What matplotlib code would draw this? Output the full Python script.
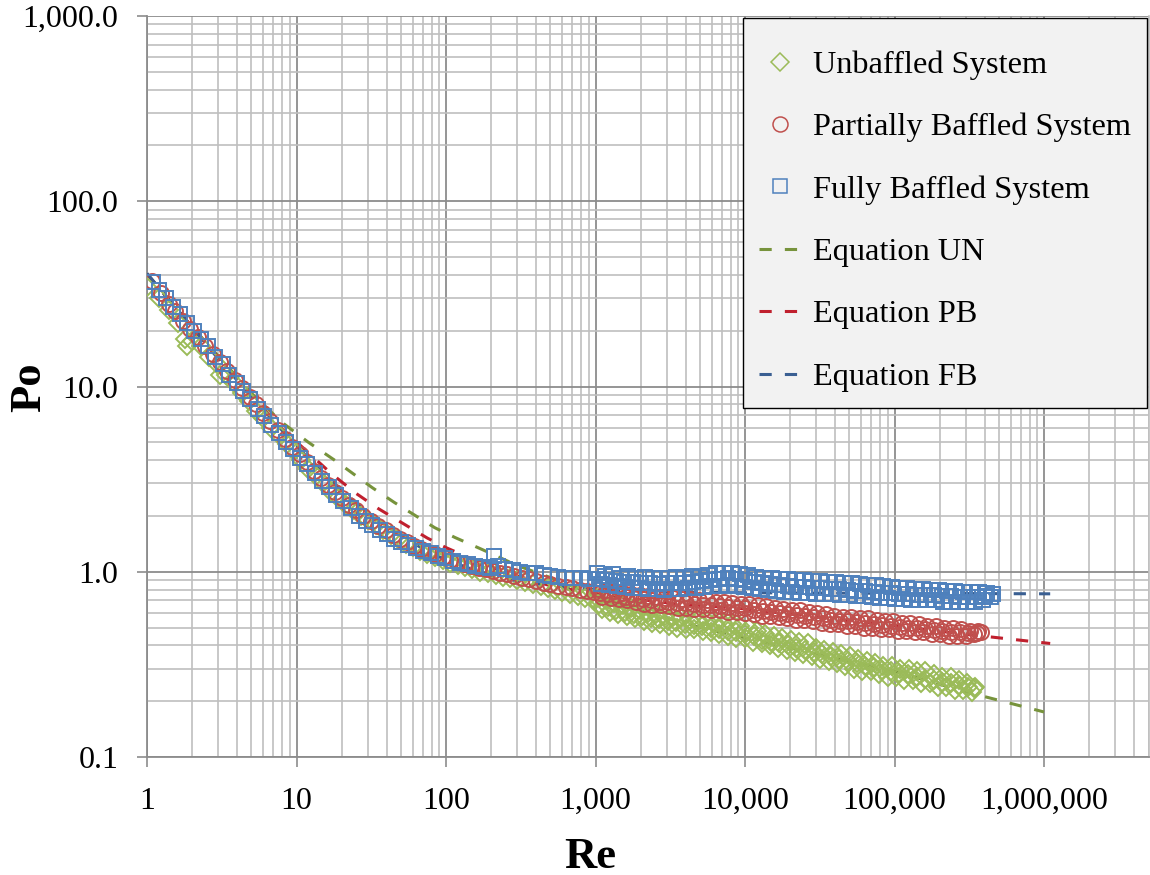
import matplotlib
matplotlib.use("Agg")
import matplotlib.pyplot as plt
from matplotlib.ticker import FixedLocator, LogLocator, NullFormatter
from matplotlib.lines import Line2D

# ---------------- data ----------------
x_tick_values = [1, 10, 100, 1000, 10000, 100000, 1000000]
x_tick_labels = ["1", "10", "100", "1,000", "10,000", "100,000", "1,000,000"]
y_tick_values = [0.1, 1, 10, 100, 1000]
y_tick_labels = ["0.1", "1.0", "10.0", "100.0", "1,000.0"]

series_labels = ["Unbaffled System", "Partially Baffled System", "Fully Baffled System",
                 "Equation UN", "Equation PB", "Equation FB"]

# Unbaffled system (diamonds)
un_re = [1.0, 1.2, 1.4, 1.6, 1.8, 1.85, 2.0, 2.3, 2.6, 3.0, 3.1, 3.4, 3.8, 4.3, 4.8, 5.4, 6.0, 6.8,
         7.7, 8.6, 9.6, 10.8, 12, 13.5, 15, 17, 19, 21.5, 24, 27, 30, 34, 38, 43, 48, 54, 60,
         67, 75, 84, 95, 106, 120, 135, 150, 170, 190, 215, 240, 270, 300, 340, 380, 430,
         480, 540, 600, 680, 760, 850, 950,
         1030, 1100, 1170, 1250, 1330, 1420, 1520, 1620, 1730, 1840, 1970, 2100, 2240, 2390,
         2550, 2720, 2900, 3100, 3300, 3520, 3760, 4010, 4280, 4560, 4870, 5200, 5540, 5910,
         6310, 6730, 7180, 7660, 8180, 8720, 9310, 9930, 10600, 11300, 12100, 12900, 13700,
         14700, 15600, 16700, 17800, 19000, 20300, 21600, 23100, 24600, 26300, 28000, 29900,
         31900, 34000, 36300, 38700, 41300, 44100, 47000, 50100, 53500, 57100, 60900, 65000,
         69300, 74000, 78900, 84200, 89800, 95800, 102200, 109100, 116400, 124200, 132500,
         141300, 150800, 160900, 171600, 183100, 195400, 208500, 222400, 237300, 253200,
         270200, 288300, 307600, 328200, 345000]
un_po = [34.5, 30, 26, 22, 18, 16.6, 17.5, 16.5, 14.5, 13, 11.6, 11.5, 10.4, 9.2, 8.4, 7.4, 6.8, 6.0,
         5.4, 4.9, 4.5, 4.0, 3.6, 3.3, 3.0, 2.7, 2.5, 2.3, 2.15, 2.0, 1.9, 1.78, 1.68, 1.58, 1.5,
         1.42, 1.36, 1.3, 1.25, 1.2, 1.16, 1.12, 1.09, 1.06, 1.03, 1.0, 0.98, 0.96, 0.94, 0.92,
         0.9, 0.88, 0.86, 0.84, 0.82, 0.8, 0.78, 0.76, 0.74, 0.72, 0.71,
         0.72, 0.63, 0.70, 0.61, 0.68, 0.59, 0.66, 0.58, 0.64, 0.56, 0.62, 0.54, 0.60, 0.53,
         0.59, 0.52, 0.58, 0.51, 0.57, 0.50, 0.56, 0.49, 0.55, 0.49, 0.55, 0.48, 0.54, 0.47,
         0.53, 0.46, 0.53, 0.45, 0.52, 0.44, 0.51, 0.44, 0.50, 0.42, 0.48, 0.41, 0.46,
         0.40, 0.45, 0.39, 0.44, 0.38, 0.43, 0.37, 0.42, 0.36, 0.41, 0.35, 0.39,
         0.34, 0.38, 0.33, 0.37, 0.32, 0.36, 0.31, 0.35, 0.30, 0.34, 0.29, 0.33,
         0.29, 0.32, 0.28, 0.31, 0.27, 0.31, 0.27, 0.30, 0.26, 0.30, 0.26,
         0.29, 0.25, 0.29, 0.25, 0.28, 0.24, 0.27, 0.24, 0.27, 0.23,
         0.26, 0.23, 0.25, 0.225, 0.24]
un_re_mid = [1060, 1210, 1380, 1580, 1800, 2050, 2340, 2670, 3050, 3480, 3970, 4530, 5170, 5900,
             6730, 7680, 8760, 10000, 11400, 13000, 14900, 17000, 19400, 22100, 25200, 28800,
             32900, 37500, 42800, 48800, 55700, 63600, 72500, 82800, 94500, 107800, 123000,
             140400, 160200, 182800, 208600, 238000, 271600, 309900, 340000]
un_po_mid = [0.67, 0.645, 0.625, 0.61, 0.595, 0.58, 0.565, 0.555, 0.545, 0.535, 0.525, 0.515,
             0.51, 0.50, 0.49, 0.48, 0.47, 0.46, 0.45, 0.43, 0.42, 0.41, 0.40, 0.39, 0.38, 0.37,
             0.36, 0.35, 0.34, 0.33, 0.32, 0.31, 0.305, 0.295, 0.29, 0.285, 0.28, 0.27, 0.265,
             0.26, 0.255, 0.25, 0.245, 0.24, 0.235]

# Partially baffled system (circles)
pb_re = [1.08, 1.25, 1.4, 1.55, 1.75, 1.95, 2.2, 2.45, 2.75, 3.1, 3.45, 3.9, 4.35, 4.85, 5.4, 6.0,
         6.7, 7.5, 8.4, 9.4, 10.5, 11.7, 13, 14.5, 16.2, 18, 20, 22.5, 25, 28, 31.5, 35, 39.5,
         44, 49, 55, 61, 68, 76, 85, 95, 106, 118, 132, 148, 165, 185, 205, 230, 255, 285,
         320, 360, 400, 450, 500, 560, 630, 700, 790, 880, 970,
         1040, 1110, 1180, 1260, 1340, 1430, 1530, 1630, 1740, 1860, 1980, 2110, 2250, 2400,
         2560, 2730, 2910, 3110, 3320, 3540, 3780, 4030, 4300, 4590, 4900, 5230, 5580, 5950,
         6350, 6780, 7230, 7720, 8240, 8790, 9380, 10000, 10700, 11400, 12200, 13000, 13900,
         14800, 15800, 16900, 18000, 19200, 20500, 21900, 23400, 25000, 26700, 28500, 30400,
         32500, 34600, 37000, 39500, 42100, 45000, 48000, 51200, 54700, 58400, 62300, 66500,
         71000, 75800, 80900, 86400, 92200, 98400, 105000, 112100, 119700, 127800, 136400,
         145600, 155400, 165900, 177100, 189100, 201800, 215400, 230000, 245500, 262000,
         279700, 298600, 318700, 340200, 363100, 380000]
pb_po = [37, 32, 28, 25.5, 22.5, 20.5, 18.5, 16.5, 15, 13.5, 12.2, 10.8, 9.8, 8.8, 8.0, 7.2,
         6.5, 5.8, 5.2, 4.7, 4.3, 3.9, 3.5, 3.2, 2.95, 2.7, 2.5, 2.3, 2.15, 2.0, 1.88, 1.77, 1.67,
         1.58, 1.5, 1.44, 1.38, 1.33, 1.28, 1.24, 1.2, 1.16, 1.13, 1.1, 1.07, 1.05, 1.03, 1.01,
         0.99, 0.97, 0.95, 0.93, 0.91, 0.89, 0.87, 0.86, 0.84, 0.83, 0.82, 0.80, 0.79, 0.78,
         0.81, 0.73, 0.80, 0.72, 0.79, 0.71, 0.77, 0.70, 0.76, 0.69, 0.75, 0.67, 0.74, 0.66,
         0.73, 0.66, 0.72, 0.65, 0.72, 0.64, 0.71, 0.64, 0.71, 0.63, 0.70, 0.63, 0.70, 0.62,
         0.69, 0.62, 0.69, 0.61, 0.68, 0.61, 0.67, 0.60, 0.67, 0.59, 0.66, 0.58, 0.65,
         0.58, 0.64, 0.57, 0.63, 0.56, 0.62, 0.55, 0.62, 0.55, 0.61, 0.54, 0.60,
         0.53, 0.59, 0.52, 0.58, 0.52, 0.57, 0.51, 0.57, 0.51, 0.56, 0.50, 0.56,
         0.50, 0.55, 0.49, 0.54, 0.49, 0.54, 0.48, 0.53, 0.48, 0.53, 0.47,
         0.52, 0.47, 0.51, 0.46, 0.51, 0.46, 0.50, 0.45, 0.50, 0.45,
         0.49, 0.45, 0.48, 0.46, 0.48, 0.47]
pb_re_mid = [1070, 1220, 1390, 1590, 1810, 2070, 2360, 2690, 3070, 3500, 4000, 4560, 5200, 5940,
             6780, 7730, 8820, 10060, 11480, 13100, 14950, 17060, 19460, 22210, 25340, 28910,
             32990, 37640, 42950, 49010, 55920, 63810, 72810, 83080, 94800, 108200, 123400,
             140800, 160700, 183400, 209200, 238700, 272400, 310800, 354700]
pb_po_mid = [0.77, 0.755, 0.745, 0.735, 0.72, 0.71, 0.70, 0.69, 0.685, 0.68, 0.675, 0.67, 0.665,
             0.66, 0.655, 0.645, 0.64, 0.635, 0.625, 0.615, 0.61, 0.60, 0.59, 0.585, 0.575, 0.57,
             0.56, 0.55, 0.545, 0.54, 0.535, 0.53, 0.525, 0.515, 0.51, 0.505, 0.50, 0.495, 0.49,
             0.485, 0.48, 0.475, 0.47, 0.465, 0.465]

# Fully baffled system (squares)
fb_re = [1.1, 1.2, 1.35, 1.5, 1.65, 1.85, 2.05, 2.3, 2.55, 2.85, 3.2, 3.55, 4.0, 4.4, 4.9, 5.5,
         6.1, 6.8, 7.6, 8.5, 9.5, 10.6, 11.8, 13.2, 14.8, 16.5, 18.5, 20.6, 23, 26, 29, 32, 36,
         40, 45, 50, 56, 63, 70, 79, 88, 99, 111, 125, 140, 157, 176, 198, 210, 222, 250, 280,
         315, 355, 400, 450, 500, 560, 630, 710, 800, 900,
         1020, 1090, 1150, 1230, 1310, 1400, 1480, 1570, 1660, 1770, 1880, 2010, 2130, 2260,
         2410, 2560, 2730, 2890, 3080, 3270, 3480, 3700, 3930, 4180, 4450, 4730, 5030, 5350,
         5690, 6050, 6430, 6840, 7270, 7730, 8220, 8740, 9290, 9880, 10500, 11200, 11900,
         12600, 13400, 14300, 15200, 16100, 17200, 18200, 19400, 20600, 21900, 23300, 24800,
         26300, 28000, 29800, 31600, 33600, 35800, 38000, 40400, 43000, 45700, 48600, 51700,
         55000, 58400, 62100, 66100, 70300, 74700, 79400, 84400, 89800, 95500, 101500, 108000,
         114800, 122000, 129800, 138000, 146700, 156000, 165800, 176300, 187500, 199300,
         212000, 225400, 239600, 254800, 270900, 288000, 306200, 325600, 346200, 368100,
         391300, 416100, 442400, 455000]
fb_po = [36.5, 33, 30, 27, 24.5, 22, 20, 18, 16.5, 14.5, 13.2, 11.6, 10.5, 9.4, 8.6, 7.6,
         6.9, 6.2, 5.6, 5.0, 4.6, 4.1, 3.8, 3.4, 3.1, 2.85, 2.6, 2.4, 2.2, 2.0, 1.88, 1.78, 1.68,
         1.6, 1.5, 1.45, 1.4, 1.34, 1.3, 1.26, 1.22, 1.19, 1.15, 1.12, 1.1, 1.08, 1.06, 1.05,
         1.22, 1.08, 1.04, 1.02, 1.0, 0.99, 0.98, 0.96, 0.95, 0.94, 0.93, 0.92, 0.92, 0.91,
         0.99, 0.86, 0.95, 0.85, 0.97, 0.84, 0.93, 0.83, 0.95, 0.82, 0.93, 0.82, 0.94, 0.81,
         0.93, 0.81, 0.92, 0.80, 0.93, 0.81, 0.94, 0.81, 0.93, 0.82, 0.95, 0.82, 0.94, 0.83,
         0.96, 0.84, 0.98, 0.84, 0.99, 0.85, 0.98, 0.84, 0.97, 0.83, 0.96, 0.82, 0.94,
         0.81, 0.93, 0.80, 0.92, 0.79, 0.91, 0.78, 0.91, 0.78, 0.90, 0.77, 0.90,
         0.77, 0.89, 0.76, 0.89, 0.76, 0.88, 0.76, 0.88, 0.75, 0.87, 0.75, 0.87,
         0.74, 0.86, 0.74, 0.85, 0.73, 0.85, 0.72, 0.84, 0.72, 0.83, 0.71, 0.82,
         0.71, 0.82, 0.70, 0.81, 0.70, 0.81, 0.70, 0.80, 0.70, 0.80,
         0.69, 0.79, 0.69, 0.79, 0.69, 0.78, 0.69, 0.78, 0.69, 0.78,
         0.70, 0.77, 0.73, 0.76]
fb_re_mid = [1050, 1200, 1370, 1560, 1780, 2030, 2320, 2650, 3020, 3450, 3940, 4500, 5130, 5860,
             6690, 7640, 8720, 9950, 11400, 13000, 14800, 16900, 19300, 22000, 25100, 28700,
             32700, 37400, 42700, 48700, 55600, 63500, 72500, 82700, 94400, 107800, 123000,
             140400, 160300, 183000, 208900, 238500, 272300, 310800, 354800, 405000]
fb_po_mid = [0.91, 0.90, 0.89, 0.88, 0.88, 0.87, 0.87, 0.86, 0.87, 0.87, 0.87, 0.88, 0.89, 0.90,
             0.91, 0.92, 0.91, 0.90, 0.88, 0.87, 0.86, 0.85, 0.84, 0.83, 0.83, 0.82, 0.82, 0.81,
             0.81, 0.80, 0.79, 0.79, 0.78, 0.77, 0.77, 0.76, 0.76, 0.75, 0.75, 0.745, 0.74,
             0.74, 0.735, 0.735, 0.73, 0.74]

# Correlation equations (dashed lines)
eq_un_re = [1, 2, 3, 5, 8, 12, 18, 32, 45, 84, 115, 174, 300, 500, 1000, 2000, 5000, 10000,
            30000, 100000, 300000, 1000000]
eq_un_po = [40.5, 21, 14.6, 9.2, 6.4, 5.0, 4.0, 2.85, 2.37, 1.73, 1.53, 1.32, 1.08, 0.93, 0.75,
            0.62, 0.5, 0.44, 0.36, 0.29, 0.225, 0.175]
eq_pb_re = [1, 2, 3, 5, 8, 12, 17, 25, 35, 50, 75, 100, 150, 200, 300, 500, 1000, 3000, 10000,
            30000, 100000, 300000, 1100000]
eq_pb_po = [40.5, 21, 14.3, 8.9, 5.9, 4.4, 3.4, 2.65, 2.2, 1.85, 1.52, 1.35, 1.17, 1.06, 0.95,
            0.84, 0.76, 0.68, 0.63, 0.57, 0.51, 0.46, 0.41]
eq_fb_re = [1, 2, 3, 5, 8, 12, 17, 25, 35, 50, 75, 100, 150, 200, 300, 500, 1000, 3000, 10000,
            100000, 1100000]
eq_fb_po = [40.8, 20.8, 14.1, 8.8, 5.8, 4.1, 3.1, 2.36, 1.9, 1.56, 1.29, 1.16, 1.03, 0.96, 0.89,
            0.84, 0.80, 0.777, 0.77, 0.765, 0.76]

# ---------------- styling ----------------
plt.rcParams["font.family"] = ["Liberation Serif", "DejaVu Serif"]

green_m = "#9bbb59"
red_m = "#c0504d"
blue_m = "#4f81bd"
green_l = "#77933c"
red_l = "#c0202e"
blue_l = "#3a5f92"
major_grid = "#8c8c8c"
minor_grid = "#bfbfbf"

W, H = 1150, 875
fig = plt.figure(figsize=(W / 100, H / 100), dpi=100)
left_px, right_px, top_px, bottom_px = 147, 1148.5, 16, 757
ax = fig.add_axes([left_px / W, 1 - bottom_px / H, (right_px - left_px) / W, (bottom_px - top_px) / H])

ax.set_xscale("log")
ax.set_yscale("log")
ax.set_xlim(1, 5e6)
ax.set_ylim(0.1, 1000)

ax.xaxis.set_major_locator(FixedLocator(x_tick_values))
ax.yaxis.set_major_locator(FixedLocator(y_tick_values))
ax.set_xticklabels(x_tick_labels)
ax.set_yticklabels(y_tick_labels)
ax.xaxis.set_minor_locator(LogLocator(base=10, subs=range(2, 10), numticks=50))
ax.yaxis.set_minor_locator(LogLocator(base=10, subs=range(2, 10), numticks=50))
ax.xaxis.set_minor_formatter(NullFormatter())
ax.yaxis.set_minor_formatter(NullFormatter())

ax.set_axisbelow(True)
ax.grid(which="major", color=major_grid, lw=1.3)
ax.grid(which="minor", color=minor_grid, lw=1.2)
ax.tick_params(which="major", length=7.5, width=1.2, color=major_grid, labelsize=23)
ax.tick_params(axis="x", which="major", pad=14)
ax.tick_params(axis="y", which="major", pad=13)
ax.tick_params(which="minor", length=0)

ax.spines["top"].set_visible(False)
ax.spines["right"].set_color(minor_grid)
ax.spines["right"].set_linewidth(1.2)
for s in ["left", "bottom"]:
    ax.spines[s].set_color(major_grid)
    ax.spines[s].set_linewidth(1.3)

mew = 1.4
ms_d, ms_o, ms_s = 8.8, 10.8, 10.2
ax.plot(un_re + un_re_mid, un_po + un_po_mid, ls="none", marker="D", ms=ms_d, mfc="none",
        mec=green_m, mew=mew, zorder=3)
ax.plot(pb_re + pb_re_mid, pb_po + pb_po_mid, ls="none", marker="o", ms=ms_o, mfc="none",
        mec=red_m, mew=mew, zorder=4)
ax.plot(fb_re + fb_re_mid, fb_po + fb_po_mid, ls="none", marker="s", ms=ms_s, mfc="none",
        mec=blue_m, mew=mew, zorder=5)

dash = (4, 4.3)
lw = 2.2
ax.plot(eq_un_re, eq_un_po, color=green_l, lw=lw, dashes=dash, zorder=2.5)
ax.plot(eq_pb_re, eq_pb_po, color=red_l, lw=lw, dashes=dash, zorder=2.6)
ax.plot(eq_fb_re, eq_fb_po, color=blue_l, lw=lw, dashes=dash, zorder=2.7)

handles = [
    Line2D([], [], ls="none", marker="D", ms=ms_d, mfc="none", mec=green_m, mew=1.1),
    Line2D([], [], ls="none", marker="o", ms=ms_o, mfc="none", mec=red_m, mew=1.1),
    Line2D([], [], ls="none", marker="s", ms=ms_s, mfc="none", mec=blue_m, mew=1.1),
    Line2D([], [], color=green_l, lw=lw, dashes=dash),
    Line2D([], [], color=red_l, lw=lw, dashes=dash),
    Line2D([], [], color=blue_l, lw=lw, dashes=dash),
]
leg = ax.legend(handles, series_labels, loc="upper right", bbox_to_anchor=(1.0, 1.0),
                borderaxespad=0.05, fontsize=23.3, handlelength=1.3, handletextpad=0.35,
                labelspacing=1.01, borderpad=0.5, fancybox=False, framealpha=1,
                facecolor="#f2f2f2", edgecolor="black",
                title=" ", title_fontsize=1)
leg.get_frame().set_linewidth(1.0)
leg.set_zorder(10)
if hasattr(leg, "_legend_box") and hasattr(leg._legend_box, "sep"):
    leg._legend_box.sep = 11.3

fig.text(590 / W, 1 - 868 / H, "Re", fontsize=32, fontweight="bold", ha="center", va="baseline")
fig.text(29 / W, 1 - 387 / H, "Po", fontsize=32, fontweight="bold", rotation=90,
         ha="center", va="center")

fig.savefig("out.png", dpi=100)
